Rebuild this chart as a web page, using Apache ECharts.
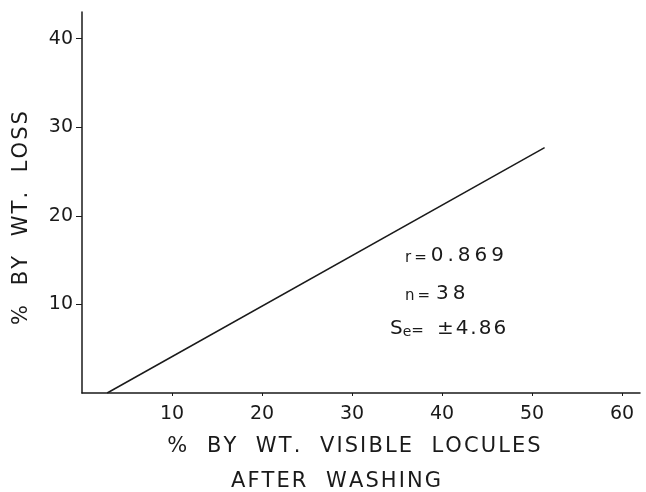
<!DOCTYPE html>
<html>
<head>
<meta charset="utf-8">
<script src="https://cdn.jsdelivr.net/npm/echarts@6/dist/echarts.min.js"></script>
<style>
  html, body { margin: 0; padding: 0; background: #fff; }
  #chart { width: 646px; height: 492px; }
</style>
</head>
<body>
<div id="chart"></div>
<script>
// Fitted regression line: weight loss vs. visible locules after washing
const lineX = [2.8, 51.4];
const lineY = [0, 27.7];
const xTicks = [10, 20, 30, 40, 50, 60];
const yTicks = [10, 20, 30, 40];
const statR = '0.869';
const statN = '38';
const statSe = '4.86';

const ink = '#1a1a1a';
const font = 'DejaVu Sans';

// Open up lettering with hair / thin spaces between characters
const spaced = s => s.split('').join('\u200A');
const wide = s => s.split('').join('\u2009');

const small = { fontSize: 15, fontFamily: font, fill: ink, verticalAlign: 'bottom' };
const big = { fontSize: 20, fontFamily: font, fill: ink };

const chart = echarts.init(document.getElementById('chart'));
chart.setOption({
  animation: false,
  backgroundColor: '#ffffff',
  grid: { left: 82, right: 6, top: 12, bottom: 99 },
  xAxis: {
    type: 'value', min: 0, max: 62,
    axisLine: { lineStyle: { color: ink, width: 1.5 } },
    axisTick: { show: true, length: 3, customValues: xTicks, lineStyle: { color: ink } },
    axisLabel: { customValues: xTicks, color: ink, fontFamily: font, fontSize: 19, margin: 12 },
    splitLine: { show: false }
  },
  yAxis: {
    type: 'value', min: 0, max: 43,
    axisLine: { show: true, lineStyle: { color: ink, width: 1.5 } },
    axisTick: { show: true, length: 6, customValues: yTicks, lineStyle: { color: ink } },
    axisLabel: { customValues: yTicks, color: ink, fontFamily: font, fontSize: 19, margin: 9 },
    splitLine: { show: false }
  },
  series: [{
    type: 'line',
    data: lineX.map((x, i) => [x, lineY[i]]),
    symbol: 'none',
    lineStyle: { color: ink, width: 1.5 }
  }],
  graphic: [
    {
      type: 'text', x: 22, y: 218, rotation: Math.PI / 2,
      style: { text: spaced('%  BY  WT.  LOSS'), fill: ink, font: '21px "' + font + '"', align: 'center', verticalAlign: 'middle' }
    },
    {
      type: 'text', x: 354, y: 447,
      style: { text: spaced('%  BY  WT.  VISIBLE  LOCULES'), fill: ink, font: '21px "' + font + '"', align: 'center', verticalAlign: 'middle' }
    },
    {
      type: 'text', x: 336, y: 482,
      style: { text: spaced('AFTER  WASHING'), fill: ink, font: '21px "' + font + '"', align: 'center', verticalAlign: 'middle' }
    },
    {
      type: 'text', x: 405, y: 256,
      style: {
        text: '{s|' + wide('r=') + '}{b|' + wide(statR) + '}',
        verticalAlign: 'middle',
        rich: { s: Object.assign({}, small, { padding: [0, 4, 0, 0] }), b: big }
      }
    },
    {
      type: 'text', x: 405, y: 294,
      style: {
        text: '{s|' + wide('n=') + '}{b|' + wide(statN) + '}',
        verticalAlign: 'middle',
        rich: { s: Object.assign({}, small, { padding: [0, 6, 0, 0] }), b: big }
      }
    },
    {
      type: 'text', x: 390, y: 329,
      style: {
        text: '{b|S}{sub|e}{s|=}{b|' + spaced('±' + statSe) + '}',
        verticalAlign: 'middle',
        rich: {
          s: Object.assign({}, small, { padding: [0, 13, 0, 0] }),
          sub: { fontSize: 14, fontFamily: font, fill: ink, verticalAlign: 'bottom', padding: [6, 0, 0, 0] },
          b: big
        }
      }
    }
  ]
});
</script>
</body>
</html>
